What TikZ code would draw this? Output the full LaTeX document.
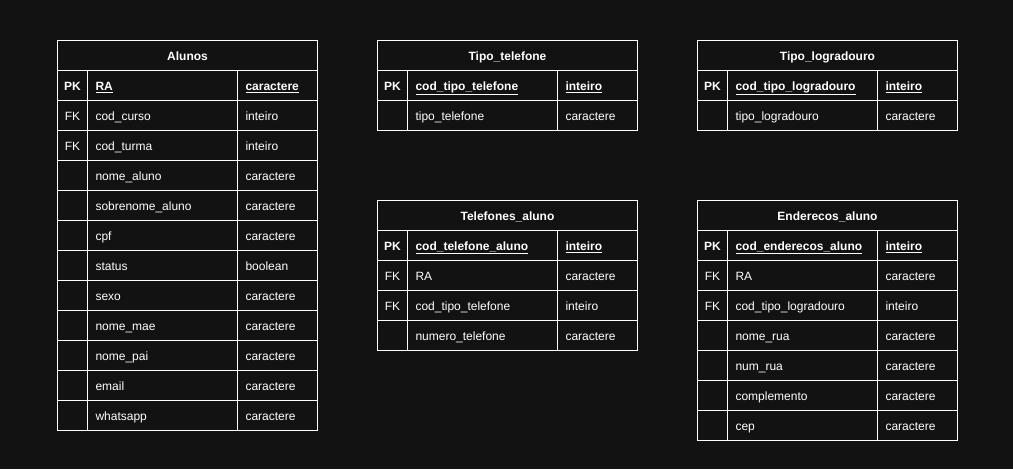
\documentclass[tikz,border=0pt]{standalone}
\usepackage{fontspec}
\setmainfont{Liberation Sans}
\usepackage{tikz}
\definecolor{fundo}{RGB}{18,18,18}
\tikzset{
	celula/.style = {
			draw=white, line width=0.75pt, text=white,
			minimum height=22.5pt, inner sep=0pt,
			text height=8.5pt, text depth=1.7pt,
			anchor=north west, font=\fontsize{9}{11}\selectfont,
		},
	cabeca/.style = {celula, minimum width=195pt, font=\fontsize{9}{11}\selectfont\bfseries},
	chave/.style = {celula, minimum width=22.5pt},
	campo/.style = {celula, text width=100.5pt, inner xsep=6pt, align=left},
	tipo/.style = {celula, text width=48pt, inner xsep=6pt, align=left},
}
\newcommand{\pk}[1]{\textbf{\underline{#1}}}

\begin{document}
\begin{tikzpicture}[x=0.75pt, y=-0.75pt]
	\fill[fundo] (0,0) rectangle (1013,469);

	% Alunos
	\node[cabeca] (alunos) at (57,40) {Alunos};
	\foreach \k/\n/\t [count=\i] in {{\textbf{PK}}/{\pk{RA}}/{\pk{caractere}}, FK/{cod\_curso}/inteiro, FK/{cod\_turma}/inteiro, {}/{nome\_aluno}/caractere, {}/{sobrenome\_aluno}/caractere, {}/cpf/caractere, {}/status/boolean, {}/sexo/caractere, {}/{nome\_mae}/caractere, {}/{nome\_pai}/caractere, {}/email/caractere, {}/whatsapp/caractere}{
		\node[chave] (alunos-k\i) at (57,{40+30*\i}) {\k};
		\node[campo] (alunos-n\i) at (87,{40+30*\i}) {\n};
		\node[tipo] (alunos-t\i) at (237,{40+30*\i}) {\t};
	}

	% Tipo_telefone
	\node[cabeca] (tipotel) at (377,40) {Tipo\_telefone};
	\foreach \k/\n/\t [count=\i] in {{\textbf{PK}}/{\pk{cod\_tipo\_telefone}}/{\pk{inteiro}}, {}/{tipo\_telefone}/caractere}{
		\node[chave] (tipotel-k\i) at (377,{40+30*\i}) {\k};
		\node[campo] (tipotel-n\i) at (407,{40+30*\i}) {\n};
		\node[tipo] (tipotel-t\i) at (557,{40+30*\i}) {\t};
	}

	% Tipo_logradouro
	\node[cabeca] (tipolog) at (697,40) {Tipo\_logradouro};
	\foreach \k/\n/\t [count=\i] in {{\textbf{PK}}/{\pk{cod\_tipo\_logradouro}}/{\pk{inteiro}}, {}/{tipo\_logradouro}/caractere}{
		\node[chave] (tipolog-k\i) at (697,{40+30*\i}) {\k};
		\node[campo] (tipolog-n\i) at (727,{40+30*\i}) {\n};
		\node[tipo] (tipolog-t\i) at (877,{40+30*\i}) {\t};
	}

	% Telefones_aluno
	\node[cabeca] (telefones) at (377,200) {Telefones\_aluno};
	\foreach \k/\n/\t [count=\i] in {{\textbf{PK}}/{\pk{cod\_telefone\_aluno}}/{\pk{inteiro}}, FK/RA/caractere, FK/{cod\_tipo\_telefone}/inteiro, {}/{numero\_telefone}/caractere}{
		\node[chave] (telefones-k\i) at (377,{200+30*\i}) {\k};
		\node[campo] (telefones-n\i) at (407,{200+30*\i}) {\n};
		\node[tipo] (telefones-t\i) at (557,{200+30*\i}) {\t};
	}

	% Enderecos_aluno
	\node[cabeca] (enderecos) at (697,200) {Enderecos\_aluno};
	\foreach \k/\n/\t [count=\i] in {{\textbf{PK}}/{\pk{cod\_enderecos\_aluno}}/{\pk{inteiro}}, FK/RA/caractere, FK/{cod\_tipo\_logradouro}/inteiro, {}/{nome\_rua}/caractere, {}/{num\_rua}/caractere, {}/complemento/caractere, {}/cep/caractere}{
		\node[chave] (enderecos-k\i) at (697,{200+30*\i}) {\k};
		\node[campo] (enderecos-n\i) at (727,{200+30*\i}) {\n};
		\node[tipo] (enderecos-t\i) at (877,{200+30*\i}) {\t};
	}
\end{tikzpicture}
\end{document}
